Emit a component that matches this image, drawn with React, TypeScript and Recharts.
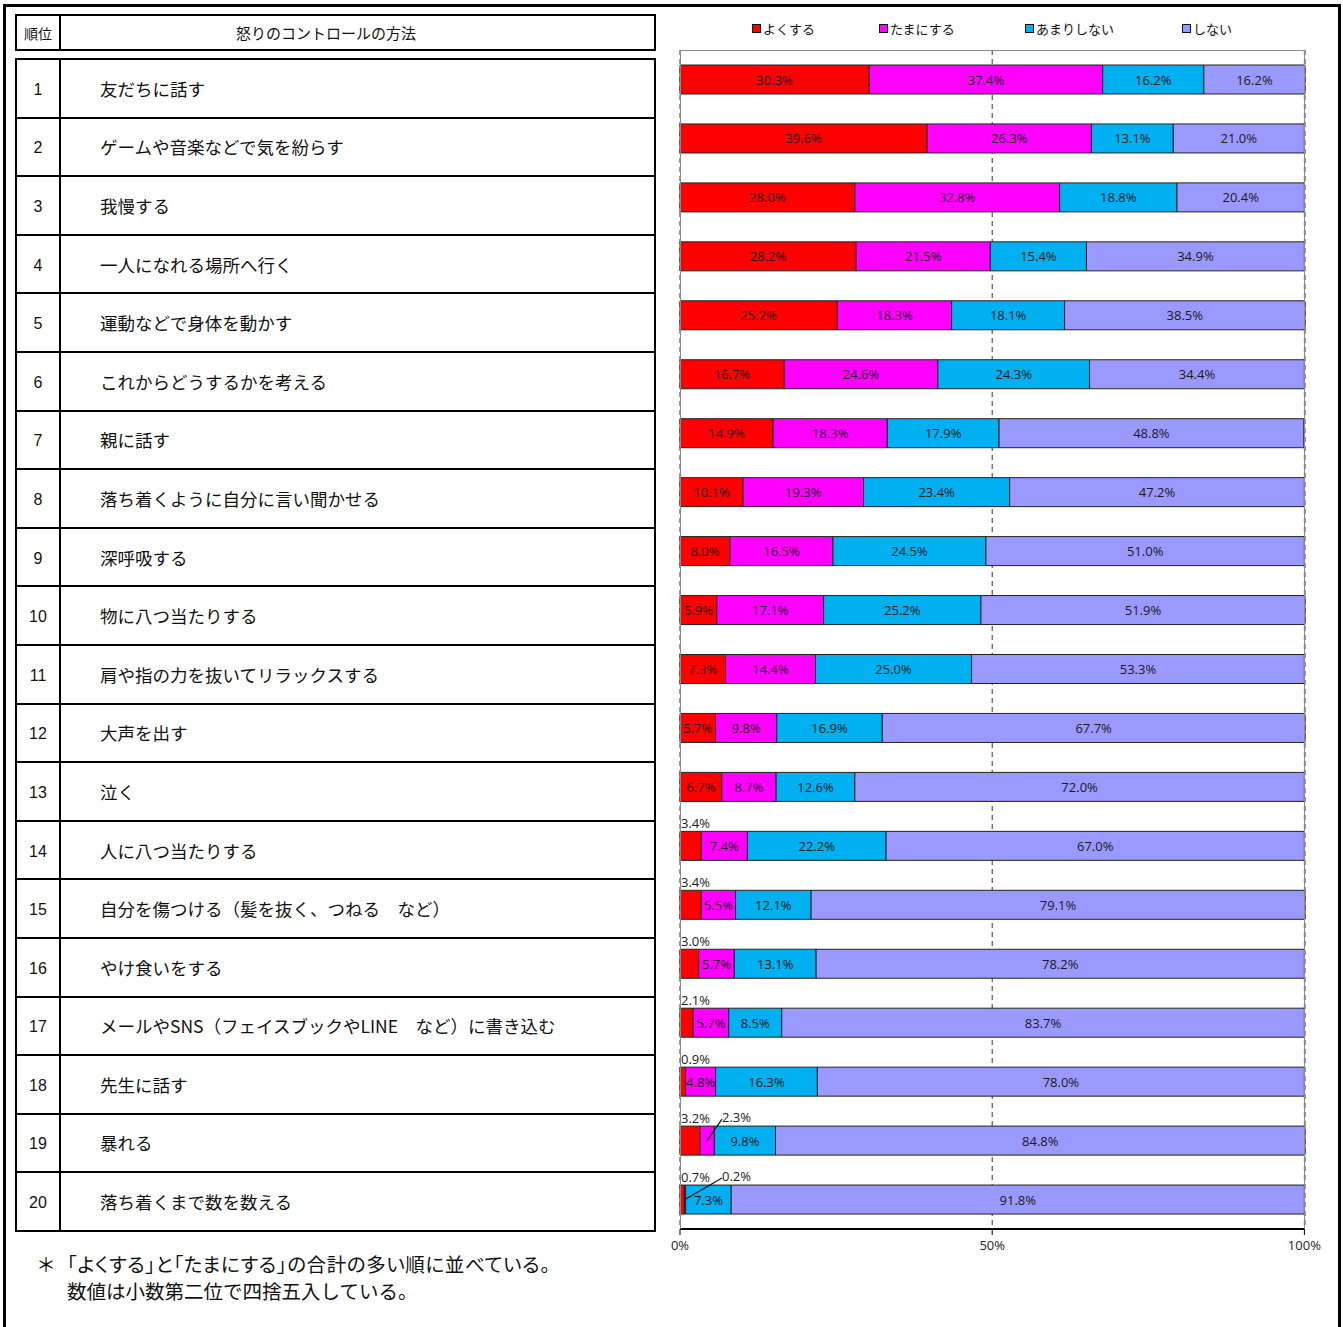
import React from "react";
import { Bar, BarChart, CartesianGrid, LabelList, XAxis, YAxis } from "recharts";

const METHODS = [
  "友だちに話す",
  "ゲームや音楽などで気を紛らす",
  "我慢する",
  "一人になれる場所へ行く",
  "運動などで身体を動かす",
  "これからどうするかを考える",
  "親に話す",
  "落ち着くように自分に言い聞かせる",
  "深呼吸する",
  "物に八つ当たりする",
  "肩や指の力を抜いてリラックスする",
  "大声を出す",
  "泣く",
  "人に八つ当たりする",
  "自分を傷つける（髪を抜く、つねる　など）",
  "やけ食いをする",
  "メールやSNS（フェイスブックやLINE　など）に書き込む",
  "先生に話す",
  "暴れる",
  "落ち着くまで数を数える",
];

const OFTEN = [30.3, 39.6, 28.0, 28.2, 25.2, 16.7, 14.9, 10.1, 8.0, 5.9, 7.3, 5.7, 6.7, 3.4, 3.4, 3.0, 2.1, 0.9, 3.2, 0.7];
const SOMETIMES = [37.4, 26.3, 32.8, 21.5, 18.3, 24.6, 18.3, 19.3, 16.5, 17.1, 14.4, 9.8, 8.7, 7.4, 5.5, 5.7, 5.7, 4.8, 2.3, 0.2];
const RARELY = [16.2, 13.1, 18.8, 15.4, 18.1, 24.3, 17.9, 23.4, 24.5, 25.2, 25.0, 16.9, 12.6, 22.2, 12.1, 13.1, 8.5, 16.3, 9.8, 7.3];
const NEVER = [16.2, 21.0, 20.4, 34.9, 38.5, 34.4, 48.8, 47.2, 51.0, 51.9, 53.3, 67.7, 72.0, 67.0, 79.1, 78.2, 83.7, 78.0, 84.8, 91.8];

const SERIES = [
  { key: "often", name: "よくする", color: "#FF0000" },
  { key: "sometimes", name: "たまにする", color: "#FF00FF" },
  { key: "rarely", name: "あまりしない", color: "#00B0F0" },
  { key: "never", name: "しない", color: "#9999FF" },
];

const X_TICKS = [0, 50, 100];

const data = METHODS.map((method, i) => ({
  method,
  often: OFTEN[i],
  sometimes: SOMETIMES[i],
  rarely: RARELY[i],
  never: NEVER[i],
}));

const JP = "'Noto Sans CJK JP', sans-serif";
const NUM = "'Open Sans', 'Noto Sans', sans-serif";
const PLOT_LEFT = 20;
const LEGEND_X = [92, 219, 365, 522];

function segmentLabel(kind: string) {
  return (props: any) => {
    const vb = props.viewBox ?? {};
    const x = Number(vb.x ?? props.x);
    const y = Number(vb.y ?? props.y);
    const width = Number(vb.width ?? props.width);
    const height = Number(vb.height ?? props.height);
    const v = Number(props.value);
    if (!isFinite(x) || !isFinite(y) || !isFinite(v)) return null;
    const text = `${v.toFixed(1)}%`;
    const common = { fontFamily: NUM, fontSize: 13, fill: "#1a1a1a" };

    // tiny red segments: label sits above the bar
    if (kind === "often" && v < 4) {
      return (
        <text x={PLOT_LEFT + 1} y={y - 8} textAnchor="start" dominantBaseline="central" {...common}>
          {text}
        </text>
      );
    }
    // tiny magenta segments: label above with a leader line
    if (kind === "sometimes" && v < 3) {
      const lx = PLOT_LEFT + 42;
      const ly = y - 9;
      return (
        <g>
          <line x1={lx} y1={ly + 2} x2={x + width / 2} y2={y + height / 2} stroke="#111" strokeWidth={1.2} />
          <text x={lx} y={ly} textAnchor="start" dominantBaseline="central" {...common}>
            {text}
          </text>
        </g>
      );
    }
    return (
      <text x={x + width / 2} y={y + height / 2} textAnchor="middle" dominantBaseline="central" {...common}>
        {text}
      </text>
    );
  };
}

function ChartLegend() {
  return (
    <div style={{ position: "absolute", left: 660, top: 19, width: 683, height: 20, fontFamily: JP, fontSize: 13, color: "#111" }}>
      {SERIES.map((s, i) => (
        <div
          key={s.key}
          style={{ position: "absolute", left: LEGEND_X[i], top: 0, display: "flex", alignItems: "center", whiteSpace: "nowrap" }}
        >
          <span
            style={{
              display: "inline-block",
              width: 7,
              height: 7,
              background: s.color,
              border: "1px solid #111",
              marginRight: 2,
            }}
          />
          <span>{s.name}</span>
        </div>
      ))}
    </div>
  );
}

function MethodTable() {
  return (
    <>
      <div
        style={{
          position: "absolute",
          left: 15,
          top: 14,
          width: 641,
          height: 37,
          boxSizing: "border-box",
          border: "2px solid #000",
          display: "flex",
          fontFamily: JP,
          fontSize: 14,
          color: "#111",
        }}
      >
        <div style={{ width: 42, borderRight: "2px solid #000", display: "flex", alignItems: "center", justifyContent: "center" }}>
          順位
        </div>
        <div style={{ flex: 1, display: "flex", alignItems: "center", paddingLeft: 175, fontSize: 15 }}>
          怒りのコントロールの方法
        </div>
      </div>
      <div
        style={{
          position: "absolute",
          left: 15,
          top: 58,
          width: 641,
          height: 1174,
          boxSizing: "border-box",
          border: "2px solid #000",
          display: "flex",
          flexDirection: "column",
          fontFamily: JP,
          color: "#111",
        }}
      >
        {METHODS.map((m, i) => (
          <div key={m} style={{ flex: 1, display: "flex", borderTop: i === 0 ? "none" : "2px solid #000" }}>
            <div
              style={{
                width: 42,
                borderRight: "2px solid #000",
                display: "flex",
                alignItems: "center",
                justifyContent: "center",
                fontSize: 16,
                paddingTop: 3,
                fontFamily: "'Liberation Sans', Arial, sans-serif",
              }}
            >
              {i + 1}
            </div>
            <div style={{ flex: 1, display: "flex", alignItems: "center", paddingLeft: 39, fontSize: 17.5, whiteSpace: "nowrap" }}>
              {m}
            </div>
          </div>
        ))}
      </div>
      <div style={{ position: "absolute", left: 38, top: 1250, fontFamily: JP, fontSize: 19.5, lineHeight: "27px", color: "#111" }}>
        <div style={{ fontFeatureSettings: '"palt"', letterSpacing: 0.6, whiteSpace: "nowrap" }}>
          <span style={{ display: "inline-block", width: 29 }}>＊</span>「よくする」と「たまにする」の合計の多い順に並べている。
        </div>
        <div style={{ paddingLeft: 29 }}>数値は小数第二位で四捨五入している。</div>
      </div>
    </>
  );
}

export default function App() {
  return (
    <div style={{ position: "absolute", left: 0, top: 0, width: 1343, height: 1327, background: "#fff", overflow: "hidden" }}>
      <div
        style={{
          position: "absolute",
          left: 3,
          top: 4,
          width: 1338,
          height: 1400,
          boxSizing: "border-box",
          border: "3px solid #000",
        }}
      />
      <MethodTable />
      <ChartLegend />
      <div style={{ position: "absolute", left: 660, top: 0, width: 678, height: 1327 }}>
        <BarChart
          width={678}
          height={1327}
          data={data}
          layout="vertical"
          margin={{ top: 50, right: 33, bottom: 68, left: PLOT_LEFT }}
        >
          <CartesianGrid horizontal={false} stroke="#333" strokeDasharray="5 4" />
          <XAxis
            type="number"
            domain={[0, 100]}
            ticks={X_TICKS}
            interval={0}
            tickFormatter={(v: number) => `${v}%`}
            axisLine={{ stroke: "#000", strokeWidth: 2 }}
            tickLine={{ stroke: "#000" }}
            tickSize={6}
            tickMargin={6}
            height={30}
            tick={{ fontFamily: NUM, fontSize: 13, fill: "#222" }}
          />
          <YAxis type="category" dataKey="method" hide />
          {SERIES.map((s) => (
            <Bar
              key={s.key}
              dataKey={s.key}
              name={s.name}
              stackId="a"
              barSize={29}
              fill={s.color}
              stroke="#222"
              isAnimationActive={false}
            >
              <LabelList dataKey={s.key} content={segmentLabel(s.key)} />
            </Bar>
          ))}
        </BarChart>
      </div>
      {/* grey frame around the plot area */}
      <div
        style={{
          position: "absolute",
          left: 680,
          top: 50,
          width: 625,
          height: 1179,
          boxSizing: "border-box",
          borderTop: "1px solid #8a8a8a",
          borderLeft: "1px solid #8a8a8a",
          borderRight: "1px solid #8a8a8a",
          pointerEvents: "none",
        }}
      />
    </div>
  );
}
